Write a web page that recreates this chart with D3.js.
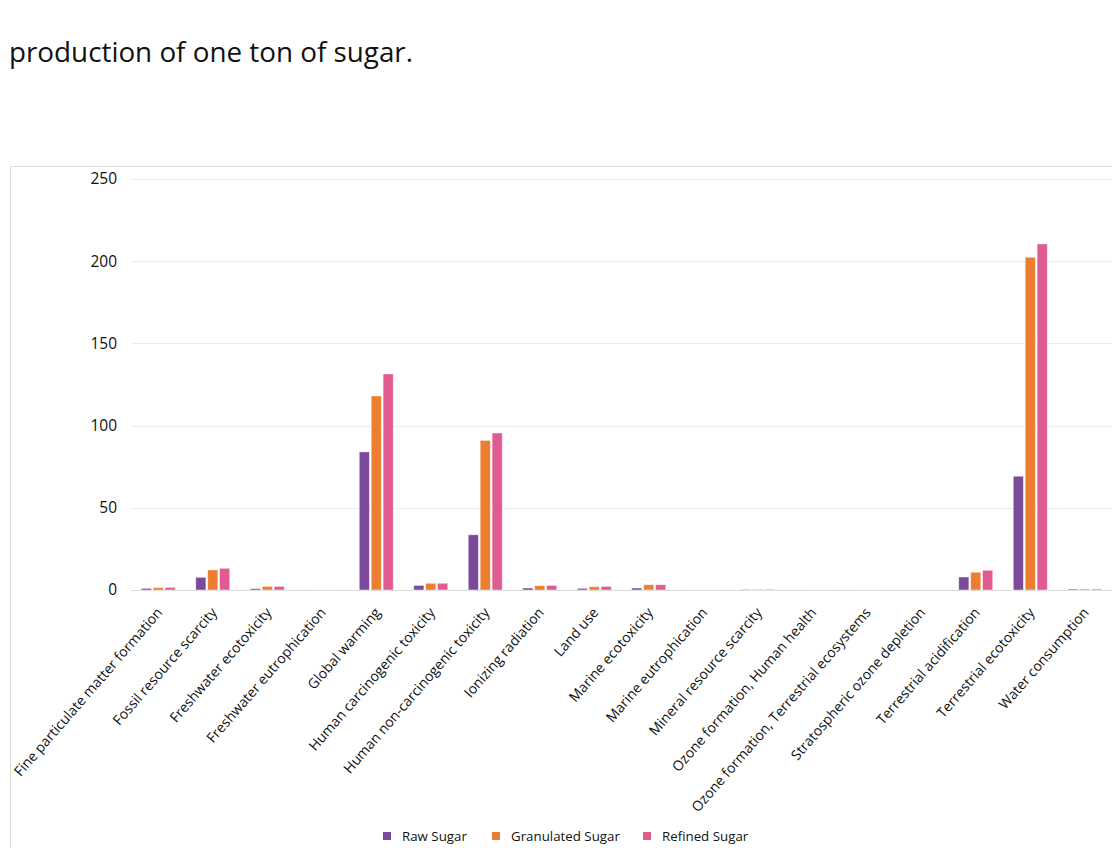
<!DOCTYPE html>
<html>
<head>
<meta charset="utf-8">
<script src="https://cdn.jsdelivr.net/npm/d3@7"></script>
<style>
  html, body { margin: 0; padding: 0; background: #fff; }
  svg { display: block; font-family: "Open Sans", "Noto Sans", sans-serif; }
</style>
</head>
<body>
<svg id="chart" width="1112" height="848"></svg>
<script>
const categories = [
  "Fine particulate matter formation",
  "Fossil resource scarcity",
  "Freshwater ecotoxicity",
  "Freshwater eutrophication",
  "Global warming",
  "Human carcinogenic toxicity",
  "Human non-carcinogenic toxicity",
  "Ionizing radiation",
  "Land use",
  "Marine ecotoxicity",
  "Marine eutrophication",
  "Mineral resource scarcity",
  "Ozone formation, Human health",
  "Ozone formation, Terrestrial ecosystems",
  "Stratospheric ozone depletion",
  "Terrestrial acidification",
  "Terrestrial ecotoxicity",
  "Water consumption"
];
const seriesNames = ["Raw Sugar", "Granulated Sugar", "Refined Sugar"];
const rawSugar =        [1.0, 7.7, 0.8, 0.05, 84, 2.8, 33.6, 1.2, 1.0, 1.2, 0.02, 0.3, 0.05, 0.05, 0.0, 7.9, 69.2, 0.6];
const granulatedSugar = [1.4, 12.2, 2.2, 0.05, 118, 4.1, 91, 2.6, 2.0, 3.2, 0.02, 0.4, 0.05, 0.05, 0.0, 10.8, 202.4, 0.6];
const refinedSugar =    [1.6, 13.2, 2.2, 0.05, 131.4, 4.1, 95.5, 2.8, 2.2, 3.2, 0.02, 0.4, 0.05, 0.05, 0.0, 12.0, 210.5, 0.6];
const yTicks = [0, 50, 100, 150, 200, 250];
const colors = ["#7B4A9B", "#ED7D31", "#E05B8F"];
const headingText = "production of one ton of sugar.";

const seriesValues = [rawSugar, granulatedSugar, refinedSugar];
const svg = d3.select("#chart");

// heading text above chart
svg.append("text")
  .attr("x", 9).attr("y", 62)
  .attr("font-size", 27.5)
  .attr("fill", "#111")
  .attr("textLength", 404)
  .attr("lengthAdjust", "spacingAndGlyphs")
  .text(headingText);

// chart frame
svg.append("rect")
  .attr("x", 10.5).attr("y", 166.5)
  .attr("width", 1120).attr("height", 700)
  .attr("fill", "#fff")
  .attr("stroke", "#dcdcdc");

const x0 = d3.scaleBand().domain(categories).range([131, 1112]).paddingInner(0).paddingOuter(0);
const x1 = d3.scaleBand().domain(seriesNames).range([10.25, 44.25]).paddingInner(0.15).paddingOuter(0);
const y = d3.scaleLinear().domain([0, 250]).range([590, 179]);

// gridlines
svg.append("g")
  .selectAll("line")
  .data(yTicks)
  .join("line")
  .attr("x1", 131).attr("x2", 1112)
  .attr("y1", d => Math.round(y(d)) + 0.5)
  .attr("y2", d => Math.round(y(d)) + 0.5)
  .attr("stroke", d => d === 0 ? "#d9d9d9" : "#ececec")
  .attr("stroke-width", 1);

// y axis labels
const yAxis = d3.axisLeft(y).tickValues(yTicks).tickSize(0).tickPadding(0);
const yg = svg.append("g").attr("transform", "translate(117,0)").call(yAxis);
yg.attr("font-size", null).attr("font-family", null);
yg.select(".domain").remove();
yg.selectAll("text")
  .style("font-size", "15.5px")
  .attr("fill", "#111");

// bars
const groups = svg.append("g")
  .selectAll("g")
  .data(categories)
  .join("g")
  .attr("transform", d => `translate(${x0(d)},0)`);

groups.selectAll("rect")
  .data((d, i) => seriesNames.map((s, j) => ({ s, v: seriesValues[j][i], j })))
  .join("rect")
  .attr("x", d => x1(d.s))
  .attr("width", x1.bandwidth())
  .attr("y", d => y(d.v))
  .attr("height", d => Math.max(0, y(0) - y(d.v)))
  .attr("fill", d => colors[d.j])
  .attr("stroke", "#ffffff")
  .attr("stroke-opacity", 0.55)
  .attr("stroke-width", 0.8);

// x axis labels
const xAxis = d3.axisBottom(x0).tickSize(0).tickPadding(0);
const xg = svg.append("g").attr("transform", "translate(0,590)").call(xAxis);
xg.attr("font-size", null).attr("font-family", null);
xg.select(".domain").remove();
xg.selectAll("text")
  .style("font-size", "14px")
  .attr("fill", "#111")
  .attr("text-anchor", "end")
  .attr("dy", 0)
  .attr("y", 0)
  .attr("transform", "translate(5,23) rotate(-49)");

// legend
const legendX = [383, 492, 643];
const legend = svg.append("g");
seriesNames.forEach((s, i) => {
  legend.append("rect")
    .attr("x", legendX[i]).attr("y", 832)
    .attr("width", 8).attr("height", 8)
    .attr("fill", colors[i]);
  legend.append("text")
    .attr("x", legendX[i] + 19).attr("y", 841)
    .attr("font-size", 13.3)
    .attr("fill", "#111")
    .text(s);
});
</script>
</body>
</html>
